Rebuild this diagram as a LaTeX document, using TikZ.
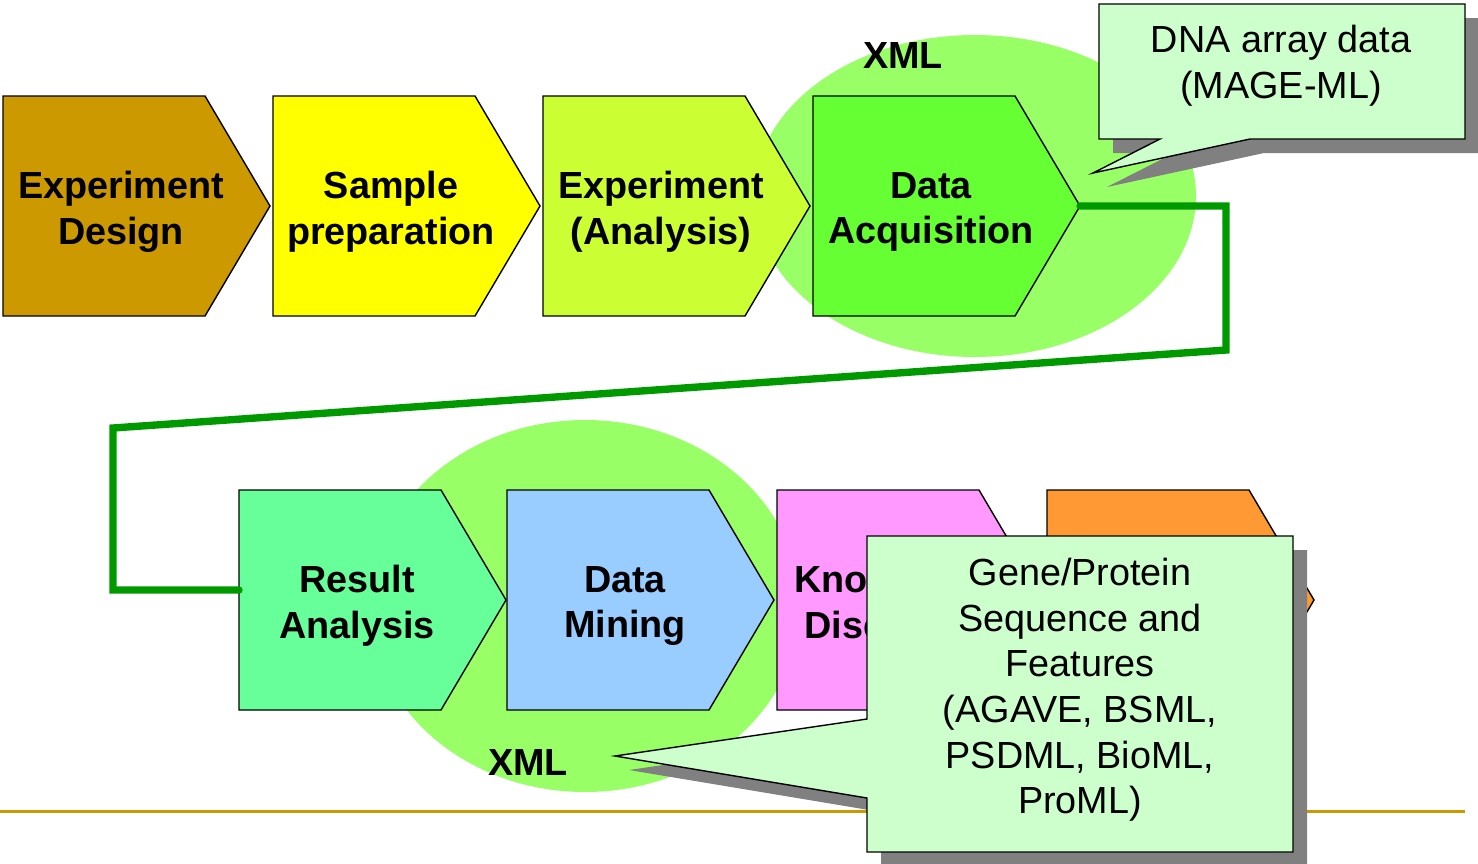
\documentclass[tikz,border=0pt]{standalone}
\usepackage{fontspec}
\setmainfont{Liberation Sans}
\usetikzlibrary{calc}
\definecolor{Gold}{HTML}{CC9900}
\definecolor{Lemon}{HTML}{FFFF00}
\definecolor{Lime}{HTML}{CCFF33}
\definecolor{Leaf}{HTML}{66FF33}
\definecolor{Mint}{HTML}{66FF99}
\definecolor{Sky}{HTML}{99CCFF}
\definecolor{Pink}{HTML}{FF99FF}
\definecolor{Orange}{HTML}{FF9933}
\definecolor{Cloud}{HTML}{99FF66}
\definecolor{Note}{HTML}{CCFFCC}
\definecolor{Flow}{HTML}{009900}

\begin{document}
\begin{tikzpicture}[x=.02cm,y=-.02cm,
    stagebox/.style={draw=black,line width=.8pt,line join=miter},
    stagetext/.style={font=\fontsize{21.5}{26}\selectfont\bfseries,align=center},
    notetext/.style={font=\fontsize{21.5}{26}\selectfont,align=center},
    notebox/.style={fill=Note,draw=black,line width=.8pt,line join=miter},
    noteshadow/.style={fill=black!50,shift={(14,14)}},
    flow/.style={draw=Flow,line width=4.2pt,line cap=round,line join=miter}]
  \useasboundingbox (0,0) rectangle (1478,863);
  % xml clouds behind the stages
  \fill[Cloud] (975,196) ellipse[x radius=221,y radius=161];
  \fill[Cloud] (585,606) ellipse[x radius=215,y radius=186];
  \node[stagetext] (xmltop) at (903,55) {XML};
  \node[stagetext] (xmlbot) at (528,762) {XML};
  % stages
  \foreach \x/\y/\c/\n/\t in {3/96/Gold/ed/{Experiment\\Design},
      273/96/Lemon/sp/{Sample\\preparation},
      543/96/Lime/ea/{Experiment\\(Analysis)},
      813/96/Leaf/da/{Data\\Acquisition},
      239/490/Mint/ra/{Result\\Analysis},
      507/490/Sky/dm/{Data\\Mining},
      777/490/Pink/kd/{Knowledge\\Discovery},
      1047/490/Orange/kp/{}}{
    \draw[stagebox,fill=\c](\x,\y)--++(202,0)--++(65,110)--++(-65,110)--++(-202,0)--cycle;
    \node[stagetext] (\n) at (\x+118,\y+116) {\t};
    \coordinate (\n-tip) at (\x+267,\y+110);}
  \coordinate (ra-in) at (239,590);
  \draw[flow] (da-tip) -| (1226,350) -- (113,428) |- (ra-in);
  \draw[Gold,line width=1.7pt] (0,811) -- (1465,811);
  % callouts
  \foreach \s in {noteshadow,notebox}
    \path[\s] (1099,4)--(1465,4)--(1465,139)--(1250,139)--(1093,173)--(1160,139)--(1099,139)--cycle;
  \node[notetext] (mage) at (1281,66) {DNA array data\\(MAGE-ML)};
  \foreach \s in {noteshadow,notebox}
    \path[\s] (867,536)--(1293,536)--(1293,852)--(867,852)--(867,798)--(615,756)--(867,719)--cycle;
  \node[notetext] (seqml) at (1080,690) {Gene/Protein\\Sequence and\\Features\\(AGAVE, BSML,\\PSDML, BioML,\\ProML)};
\end{tikzpicture}
\end{document}
